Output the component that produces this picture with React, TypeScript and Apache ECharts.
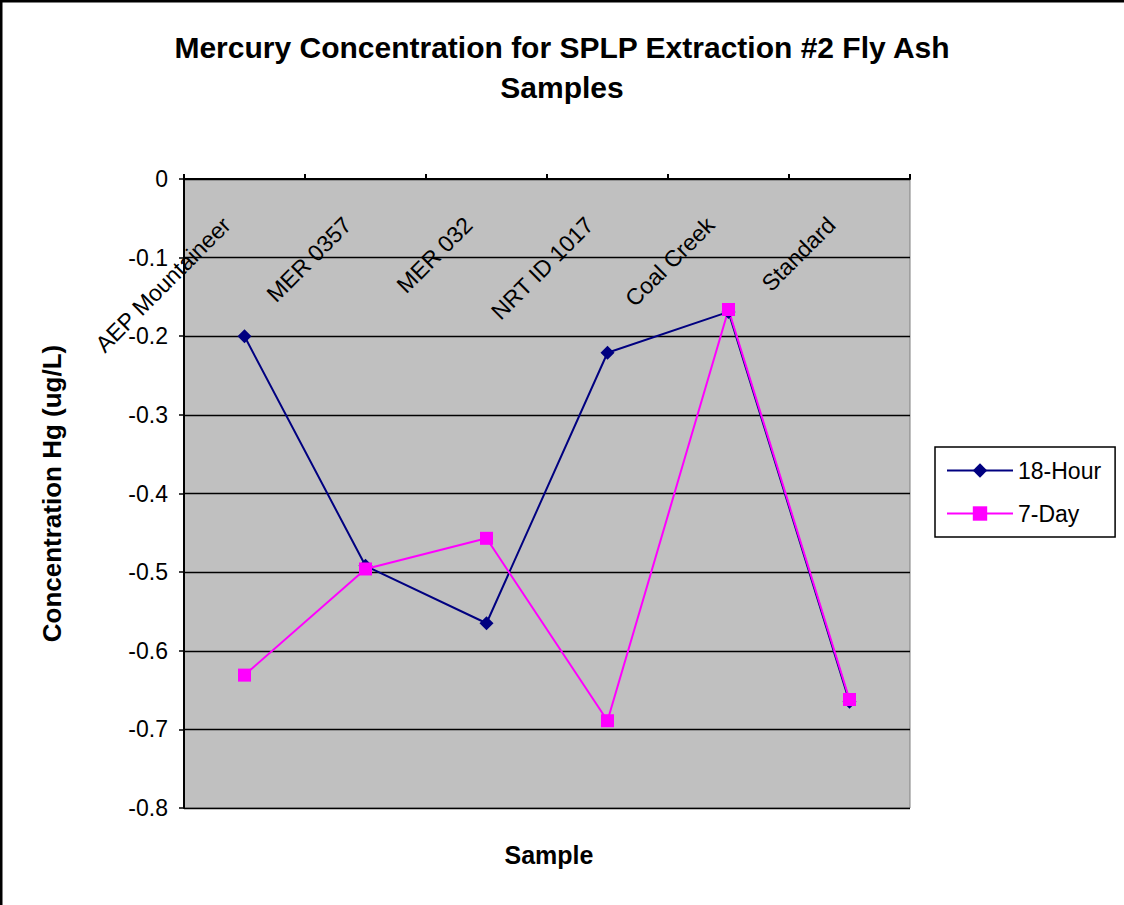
import React, { useEffect, useRef } from "react";
import * as echarts from "echarts";

const categories = ["AEP Mountaineer", "MER 0357", "MER 032", "NRT ID 1017", "Coal Creek", "Standard"];
const hour18 = [-0.2, -0.492, -0.565, -0.221, -0.169, -0.665];
const day7 = [-0.631, -0.496, -0.457, -0.689, -0.166, -0.662];
const yTicks = { min: -0.8, max: 0, interval: 0.1 };

export default function App() {
  const ref = useRef<HTMLDivElement>(null);
  useEffect(() => {
    document.body.style.margin = "0";
    const chart = echarts.init(ref.current!, null, { renderer: "svg" });
    const font = "Liberation Sans, Arial, sans-serif";
    chart.setOption({
      animation: false,
      backgroundColor: "#ffffff",
      textStyle: { fontFamily: font },
      title: {
        text: "Mercury Concentration for SPLP Extraction #2 Fly Ash\nSamples",
        left: "center",
        top: 22,
        textStyle: { fontSize: 30, fontWeight: "bold", color: "#000", lineHeight: 40, fontFamily: font },
      },
      grid: {
        left: 184,
        top: 179,
        right: 214,
        bottom: 97,
        show: true,
        backgroundColor: "#C0C0C0",
        borderColor: "#808080",
        borderWidth: 1,
        containLabel: false,
      },
      legend: {
        left: 935,
        top: 447,
        orient: "vertical",
        itemWidth: 66,
        itemHeight: 18,
        itemGap: 20,
        padding: [12, 14, 12, 11],
        borderColor: "#000",
        borderWidth: 1.5,
        backgroundColor: "#fff",
        textStyle: { fontSize: 23, color: "#000", fontFamily: font },
        data: ["18-Hour", "7-Day"],
      },
      xAxis: {
        type: "category",
        position: "top",
        data: categories,
        boundaryGap: true,
        axisLine: { show: true, lineStyle: { color: "#000", width: 2 } },
        axisTick: { show: true, inside: false, length: 5, alignWithLabel: false, lineStyle: { color: "#000", width: 2 } },
        axisLabel: {
          inside: true,
          rotate: 45,
          margin: 24,
          fontSize: 23,
          color: "#000",
          fontFamily: font,
          interval: 0,
          formatter: (v: string) => v + "    ",
        },
        splitLine: { show: false },
      },
      yAxis: {
        type: "value",
        min: yTicks.min,
        max: yTicks.max,
        interval: yTicks.interval,
        name: "Concentration Hg (ug/L)",
        nameLocation: "middle",
        nameRotate: 90,
        nameGap: 119,
        nameTextStyle: { fontSize: 26, fontWeight: "bold", color: "#000", fontFamily: font },
        axisLine: { show: true, lineStyle: { color: "#000", width: 2 } },
        axisTick: { show: true, inside: false, length: 5, lineStyle: { color: "#000", width: 1.5 } },
        axisLabel: {
          fontSize: 23,
          color: "#000",
          margin: 16,
          fontFamily: font,
          formatter: (v: number) => String(Math.round(v * 10) / 10),
        },
        splitLine: { show: true, lineStyle: { color: "#000", width: 1.3 } },
      },
      series: [
        {
          name: "18-Hour",
          type: "line",
          data: hour18,
          color: "#000080",
          symbol: "diamond",
          symbolSize: 14,
          lineStyle: { width: 2, color: "#000080" },
          itemStyle: { color: "#000080" },
        },
        {
          name: "7-Day",
          type: "line",
          data: day7,
          color: "#FF00FF",
          symbol: "rect",
          symbolSize: 13,
          lineStyle: { width: 2, color: "#FF00FF" },
          itemStyle: { color: "#FF00FF" },
        },
      ],
      graphic: [
        {
          type: "text",
          x: 549,
          y: 855,
          style: { text: "Sample", font: `bold 25px ${font}`, fill: "#000", textAlign: "center", textVerticalAlign: "middle" },
        },
        { type: "line", shape: { x1: 1, y1: 0, x2: 1, y2: 905 }, style: { stroke: "#000", lineWidth: 3 } },
        { type: "line", shape: { x1: 0, y1: 1, x2: 1124, y2: 1 }, style: { stroke: "#000", lineWidth: 3 } },
      ],
    });
    return () => chart.dispose();
  }, []);
  return <div ref={ref} style={{ position: "absolute", left: 0, top: 0, width: 1124, height: 905 }} />;
}
